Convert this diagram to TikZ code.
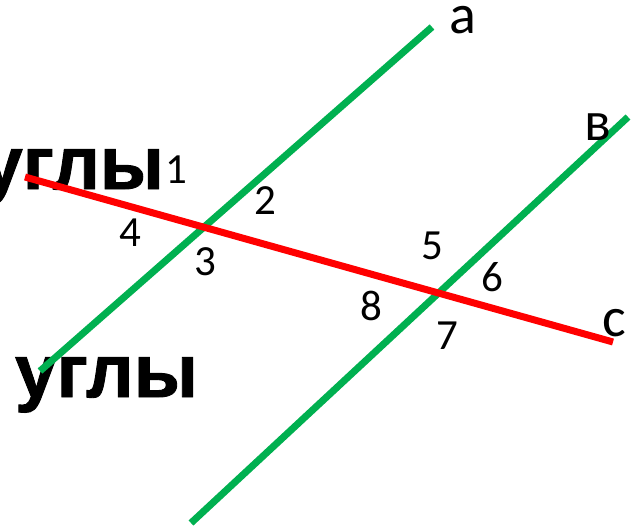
\documentclass[tikz,border=0pt]{standalone}
\usepackage{fontspec}
\setmainfont{Carlito}
\newfontfamily\boldsans{Liberation Sans Bold}[FakeBold=1.2]
\definecolor{lgreen}{RGB}{0,176,80}
\definecolor{lred}{RGB}{255,0,0}

\begin{document}
\begin{tikzpicture}[x=1pt,y=-1pt,
    num/.style={inner sep=0pt,font=\fontsize{43}{43}\selectfont},
    letter/.style={inner sep=0pt,font=\fontsize{56}{56}\selectfont},
    title/.style={inner sep=0pt,anchor=base east,font=\boldsans\fontsize{75}{75}\selectfont},
    straight/.style={line width=7pt}]
  \useasboundingbox (0,0) rectangle (634,527);

  \node[title] (top) at (164,189) {углы};
  \node[title] (bottom) at (198,397) {- углы};

  \coordinate (a0) at (40,371);  \coordinate (a1) at (432,27);
  \coordinate (b0) at (191,523); \coordinate (b1) at (628,117);
  \coordinate (c0) at (25,177);  \coordinate (c1) at (613,342);

  \draw[straight,lgreen] (a0) -- (a1);
  \draw[straight,lgreen] (b0) -- (b1);
  \draw[straight,lred] (c0) -- (c1);

  \node[letter] (la) at (463,20) {а};
  \node[letter] (lb) at (598,127) {в};
  \node[letter] (lc) at (614,323) {с};

  \node[num] (n1) at (176,170) {1};
  \node[num] (n2) at (265,201) {2};
  \node[num] (n3) at (205,262) {3};
  \node[num] (n4) at (130,233) {4};
  \node[num] (n5) at (432,246) {5};
  \node[num] (n6) at (492,277) {6};
  \node[num] (n7) at (447,336) {7};
  \node[num] (n8) at (371,306) {8};

\end{tikzpicture}
\end{document}
